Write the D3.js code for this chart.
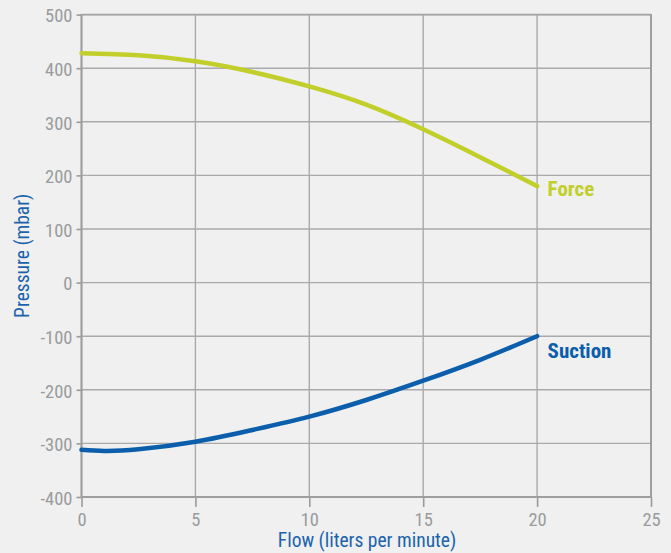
<!DOCTYPE html>
<html><head><meta charset="utf-8">
<script src="https://cdn.jsdelivr.net/npm/d3@7"></script>
<style>
html,body{margin:0;padding:0;background:#eff0ef;}
svg{display:block;}
text{font-family:"Liberation Sans Narrow","Roboto Condensed","Roboto",sans-serif;}
</style></head>
<body><svg id="c" width="671" height="553"></svg>
<script>
const flowForce = [0, 2.5, 5, 7.5, 10, 12.5, 15, 17.5, 20];
const forceValues = [428, 424, 413, 393, 366, 332, 286, 234, 180];
const flowSuction = [0, 1, 2.5, 5, 7.5, 10, 12.5, 15, 17.5, 20];
const suctionValues = [-312, -314, -311, -297, -275, -250, -219, -183, -144, -100];
const xTicks = [0, 5, 10, 15, 20, 25];
const yTicks = [500, 400, 300, 200, 100, 0, -100, -200, -300, -400];
const seriesNames = ["Force", "Suction"];

(function () {
const svg = d3.select("#c");
const pl = 81.5, pr = 651, pt = 14.6, pb = 497;
const x = d3.scaleLinear().domain([0, 25]).range([pl, pr]);
const y = d3.scaleLinear().domain([-400, 500]).range([pb, pt]);

const tickColor = "#9a9b9d";
const gridColor = "#a9aaab";

const g = svg.append("g");
g.selectAll("line.h").data(yTicks).join("line")
  .attr("x1", pl).attr("x2", pr)
  .attr("y1", d => y(d)).attr("y2", d => y(d))
  .attr("stroke", gridColor).attr("stroke-width", 1.4);
g.selectAll("line.v").data(xTicks).join("line")
  .attr("y1", pt).attr("y2", pb)
  .attr("x1", d => x(d)).attr("x2", d => x(d))
  .attr("stroke", gridColor).attr("stroke-width", 1.4);

const fmt = d => String(d);
const yAxis = d3.axisLeft(y).tickValues(yTicks).tickFormat(fmt).tickSize(5).tickPadding(4);
const xAxis = d3.axisBottom(x).tickValues(xTicks).tickFormat(fmt).tickSize(10).tickPadding(4);
const ya = svg.append("g").attr("transform", `translate(${pl},0)`).call(yAxis);
const xa = svg.append("g").attr("transform", `translate(0,${pb})`).call(xAxis);
[ya, xa].forEach(a => {
  a.select(".domain").remove();
  a.selectAll(".tick line").attr("stroke", tickColor).attr("stroke-width", 1.6);
  a.selectAll(".tick text").attr("fill", tickColor).style("font-size", "18.5px");
});
xa.selectAll(".tick text").attr("y", 29).attr("dy", 0);
ya.selectAll(".tick text").attr("y", 7.3).attr("dy", 0);

svg.append("line").attr("x1", pl).attr("x2", pl).attr("y1", pt - 0.7).attr("y2", pb + 1)
  .attr("stroke", "#9d9ea0").attr("stroke-width", 2);
svg.append("line").attr("x1", pl).attr("x2", pr).attr("y1", pb).attr("y2", pb)
  .attr("stroke", "#9d9ea0").attr("stroke-width", 2);
svg.append("line").attr("x1", pr).attr("x2", pr).attr("y1", pt - 0.7).attr("y2", pb)
  .attr("stroke", "#9d9ea0").attr("stroke-width", 2);
svg.append("line").attr("x1", pl).attr("x2", pr).attr("y1", pt).attr("y2", pt)
  .attr("stroke", "#a3a4a6").attr("stroke-width", 1.6);

const line = d3.line().x(d => x(d[0])).y(d => y(d[1])).curve(d3.curveNatural);
const forceColor = "#c2cf2b", suctionColor = "#0a5eab";
svg.append("path").datum(flowForce.map((f, i) => [f, forceValues[i]]))
  .attr("d", line).attr("fill", "none").attr("stroke", forceColor)
  .attr("stroke-width", 4.5).attr("stroke-linecap", "round");
svg.append("path").datum(flowSuction.map((f, i) => [f, suctionValues[i]]))
  .attr("d", line).attr("fill", "none").attr("stroke", suctionColor)
  .attr("stroke-width", 4.5).attr("stroke-linecap", "round");

svg.append("text").text(seriesNames[0])
  .attr("x", x(20) + 10.5).attr("y", y(forceValues[forceValues.length - 1]) + 9.5)
  .attr("fill", forceColor).style("font-size", "21px").style("font-weight", "bold");
svg.append("text").text(seriesNames[1])
  .attr("x", x(20) + 10.5).attr("y", y(suctionValues[suctionValues.length - 1]) + 22)
  .attr("fill", suctionColor).style("font-size", "21px").style("font-weight", "bold");

const titleColor = "#1b63ad";
svg.append("text").text("Flow (liters per minute)")
  .attr("x", 367).attr("y", 547)
  .attr("text-anchor", "middle").attr("fill", titleColor).style("font-size", "19.5px");
svg.append("text").text("Pressure (mbar)")
  .attr("transform", `translate(29,${y(50)}) rotate(-90)`)
  .attr("text-anchor", "middle").attr("fill", titleColor).style("font-size", "19.5px");
})();
</script></body></html>
